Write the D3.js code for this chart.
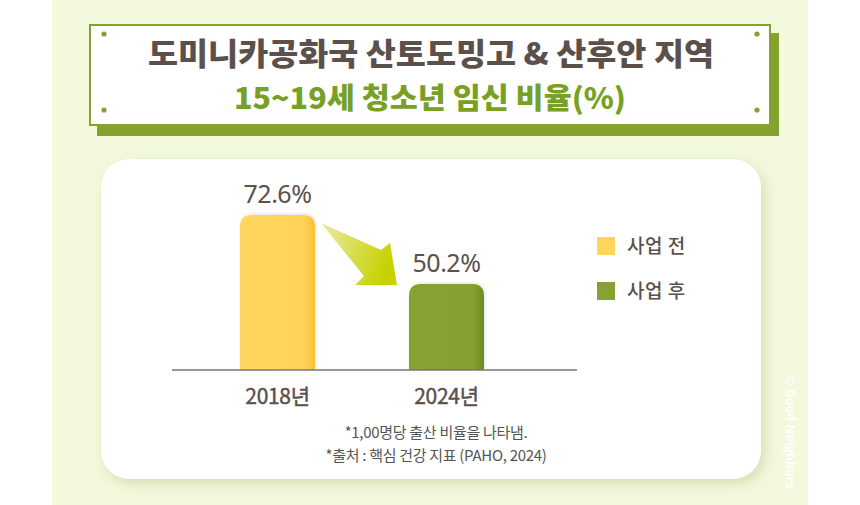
<!DOCTYPE html>
<html><head><meta charset="utf-8">
<script src="https://cdn.jsdelivr.net/npm/d3@7/dist/d3.min.js"></script>
<style>html,body{margin:0;padding:0;background:#fff;}svg{display:block;}</style>
</head><body>
<div id="chart"></div>
<script>
const titleLine1 = "도미니카공화국 산토도밍고 & 산후안 지역";
const titleLine2 = "15~19세 청소년 임신 비율(%)";
const categories = ["2018년", "2024년"];
const series = ["사업 전", "사업 후"];
const values = [72.6, 50.2];
const valueLabels = ["72.6%", "50.2%"];
const notes = ["*1,00명당 출산 비율을 나타냄.", "*출처 : 핵심 건강 지표 (PAHO, 2024)"];
const watermark = "© Good Neighbors";

const W = 860, H = 505;
const KR = "'Noto Sans CJK KR','Noto Sans',sans-serif";
const svg = d3.select("#chart").append("svg").attr("width", W).attr("height", H);
const defs = svg.append("defs");

// gradients
const gy = defs.append("linearGradient").attr("id","gYellow").attr("x1","0").attr("x2","1").attr("y1","0").attr("y2","0");
gy.append("stop").attr("offset","0").attr("stop-color","#ffd65e");
gy.append("stop").attr("offset","0.85").attr("stop-color","#fdd257");
gy.append("stop").attr("offset","1").attr("stop-color","#f6c233");
const gg = defs.append("linearGradient").attr("id","gGreen").attr("x1","0").attr("x2","1").attr("y1","0").attr("y2","0");
gg.append("stop").attr("offset","0").attr("stop-color","#86a233");
gg.append("stop").attr("offset","0.85").attr("stop-color","#85a131");
gg.append("stop").attr("offset","1").attr("stop-color","#6c8a20");
const ga = defs.append("linearGradient").attr("id","gArrow").attr("x1","0").attr("x2","1").attr("y1","0").attr("y2","0.3");
ga.append("stop").attr("offset","0").attr("stop-color","#eceaa6");
ga.append("stop").attr("offset","1").attr("stop-color","#c6d200");
const sh = defs.append("filter").attr("id","cardShadow").attr("x","-10%").attr("y","-10%").attr("width","125%").attr("height","130%");
sh.append("feDropShadow").attr("dx",4).attr("dy",5).attr("stdDeviation",6).attr("flood-color","#9fb070").attr("flood-opacity",0.35);
const bs = defs.append("filter").attr("id","barShadow").attr("x","-10%").attr("y","-10%").attr("width","130%").attr("height","120%");
bs.append("feDropShadow").attr("dx",1).attr("dy",-1).attr("stdDeviation",1.5).attr("flood-color","#000").attr("flood-opacity",0.12);

// background panel
svg.append("rect").attr("x",52).attr("y",0).attr("width",756).attr("height",H).attr("fill","#f2f9dc");

// title box
svg.append("rect").attr("x",97).attr("y",33).attr("width",682).attr("height",103).attr("fill","#84a22d");
svg.append("rect").attr("x",90).attr("y",25).attr("width",680).attr("height",100).attr("fill","#fff").attr("stroke","#84a22d").attr("stroke-width",2);
[[104,34],[757,34],[104,110],[757,110]].forEach(p=>{
  svg.append("circle").attr("cx",p[0]).attr("cy",p[1]).attr("r",2.6).attr("fill","#84a22d");
});
svg.append("text").attr("x",431).attr("y",65).attr("text-anchor","middle")
  .attr("font-family",KR).attr("font-weight",900).attr("font-size",31)
  .attr("textLength",566).attr("lengthAdjust","spacingAndGlyphs")
  .attr("fill","#5b504b").text(titleLine1);
svg.append("text").attr("x",430).attr("y",109).attr("text-anchor","middle")
  .attr("font-family",KR).attr("font-weight",900).attr("font-size",29)
  .attr("textLength",392).attr("lengthAdjust","spacingAndGlyphs")
  .attr("fill","#78a123").text(titleLine2);

// card
svg.append("rect").attr("x",101).attr("y",159).attr("width",660).attr("height",320).attr("rx",28)
  .attr("fill","#fff").attr("filter","url(#cardShadow)");

// scales
const x = d3.scaleBand().domain(categories).range([240, 484]).paddingInner(0.556).paddingOuter(0);
const y = d3.scaleLinear().domain([22.3, 72.6]).range([370, 215]);

const bw = x.bandwidth();
const r = 12;
function barPath(x0, y0, w, h){
  return `M${x0},${y0+h} V${y0+r} Q${x0},${y0} ${x0+r},${y0} H${x0+w-r} Q${x0+w},${y0} ${x0+w},${y0+r} V${y0+h} Z`;
}
const fills = ["url(#gYellow)","url(#gGreen)"];
categories.forEach((c,i)=>{
  const x0 = x(c), y0 = y(values[i]);
  svg.append("path").attr("d", barPath(x0, y0, bw, y(y.domain()[0]) - y0)).attr("fill", fills[i]).attr("filter","url(#barShadow)");
  svg.append("text").attr("x", x0 + bw/2).attr("y", y0 - 12).attr("text-anchor","middle")
    .attr("font-family","'Noto Sans',sans-serif").attr("font-size",25).attr("fill","#5b504b").attr("letter-spacing",-0.5)
    .text(valueLabels[i]);
});

// axis
const axis = svg.append("g").attr("transform",`translate(0,${y(y.domain()[0])})`).call(d3.axisBottom(x).tickSize(0).tickPadding(19));
axis.select(".domain").remove();
svg.append("line").attr("x1",172).attr("x2",577).attr("y1",370).attr("y2",370).attr("stroke","#777").attr("stroke-width",1.5);
axis.selectAll("text").attr("font-family",KR).attr("font-size",21).attr("font-weight",400).attr("fill","#5b504b")
  .attr("stroke","#5b504b").attr("stroke-width",0.45).attr("letter-spacing",-0.3);

// arrow from bar 1 to bar 2
const ax0 = x(categories[0]) + bw, ax1 = x(categories[1]);
const ay0 = y(values[0]), ay1 = y(values[1]);
const pts = [
  [ax0 + 6, ay0 + 8],
  [ax1 - 28, ay0 + 35],
  [ax1 - 19, ay0 + 28],
  [ax1 - 12, ay1 + 1],
  [ax1 - 54, ay1 + 1],
  [ax1 - 45, ay1 - 8]
];
svg.append("path").attr("d", d3.line()(pts) + "Z").attr("fill","url(#gArrow)");

// legend
const lg = svg.append("g").attr("transform","translate(597,237)");
series.forEach((s,i)=>{
  const g = lg.append("g").attr("transform",`translate(0,${i*45})`);
  g.append("rect").attr("width",18).attr("height",18).attr("fill", i===0?"#ffd55c":"#86a232");
  g.append("text").attr("x",30).attr("y",9).attr("dy","0.36em").attr("font-family",KR).attr("font-size",19).attr("font-weight",500)
    .attr("fill","#5b504b").attr("letter-spacing",0.5).text(s);
});

// notes
notes.forEach((n,i)=>{
  svg.append("text").attr("x",436).attr("y",438 + i*23).attr("text-anchor","middle")
    .attr("font-family",KR).attr("font-size",15).attr("fill","#555").attr("letter-spacing",-0.3).text(n);
});

// watermark
svg.append("text").attr("transform","translate(786,375) rotate(90)")
  .attr("font-family","'Open Sans',sans-serif").attr("font-weight",700).attr("font-size",12.5)
  .attr("fill","#fff").attr("fill-opacity",1).text(watermark);
</script>
</body></html>
